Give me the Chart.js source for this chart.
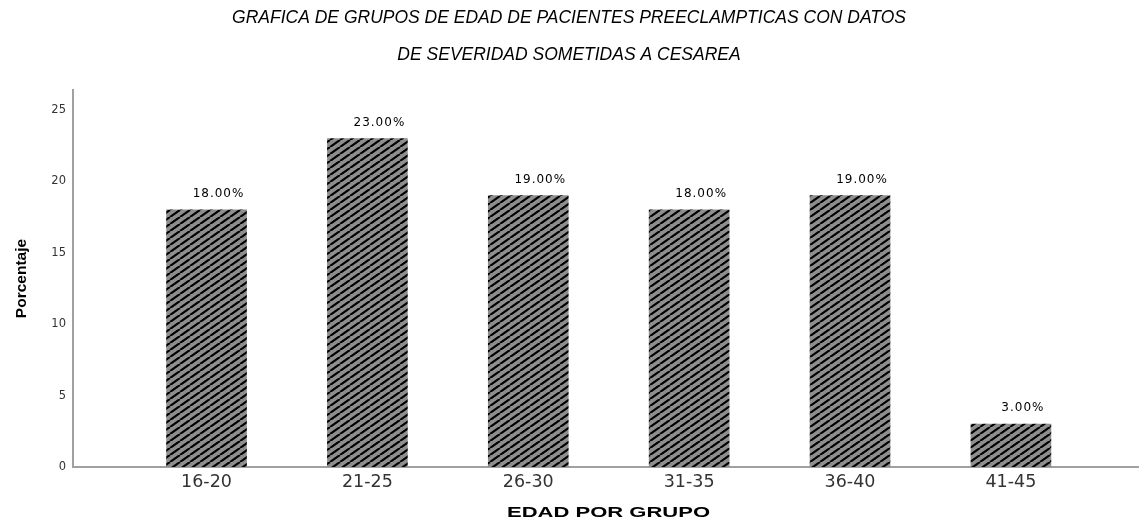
<!DOCTYPE html>
<html>
<head>
<meta charset="utf-8">
<script src="https://cdn.jsdelivr.net/npm/chart.js@4.4.1/dist/chart.umd.min.js"></script>
<style>
html,body{margin:0;padding:0;background:#fff;}
#wrap{width:1139px;height:523px;}
</style>
</head>
<body>
<div id="wrap"><canvas id="c" width="1139" height="523"></canvas></div>
<script>
const categories = ['16-20', '21-25', '26-30', '31-35', '36-40', '41-45'];
const percentages = [18, 23, 19, 18, 19, 3];
const yTicks = [0, 5, 10, 15, 20, 25];
const titleLines = ['GRAFICA DE GRUPOS DE EDAD DE PACIENTES PREECLAMPTICAS CON DATOS', 'DE SEVERIDAD SOMETIDAS A CESAREA'];
const xTitle = 'EDAD POR GRUPO';
const yTitle = 'Porcentaje';

function makePattern() {
  const w = 10, h = 7;
  const t = document.createElement('canvas');
  t.width = w; t.height = h;
  const g = t.getContext('2d');
  g.fillStyle = '#8e8e8e';
  g.fillRect(0, 0, w, h);
  g.strokeStyle = '#000';
  g.lineWidth = 2.2;
  g.beginPath();
  for (let k = -1; k <= 1; k++) {
    g.moveTo(k * w, h);
    g.lineTo(k * w + w, 0);
  }
  g.stroke();
  return document.getElementById('c').getContext('2d').createPattern(t, 'repeat');
}

const dejavu = '"DejaVu Sans", "Liberation Sans", sans-serif';
const sans = '"Liberation Sans", Arial, sans-serif';

const labelPlugin = {
  id: 'barLabels',
  afterDatasetsDraw(chart) {
    const ctx = chart.ctx;
    const meta = chart.getDatasetMeta(0);
    ctx.save();
    ctx.font = '12px ' + dejavu;
    ctx.letterSpacing = '1px';
    ctx.fillStyle = '#000';
    ctx.textAlign = 'center';
    ctx.textBaseline = 'middle';
    meta.data.forEach((el, i) => {
      ctx.fillText(percentages[i].toFixed(2) + '%', el.x + 12, el.y - 16);
    });
    ctx.restore();
  },
  afterDraw(chart) {
    // x-axis title, drawn wide like the reference
    const ctx = chart.ctx;
    const xs = chart.scales.x;
    const cx = (xs.left + xs.right) / 2;
    ctx.save();
    ctx.font = 'bold 15.5px ' + sans;
    ctx.fillStyle = '#000';
    ctx.textAlign = 'center';
    ctx.textBaseline = 'middle';
    ctx.translate(cx + 3, xs.bottom - 10);
    ctx.scale(1.42, 1);
    ctx.fillText(xTitle, 0, 0);
    ctx.restore();
  }
};

new Chart(document.getElementById('c'), {
  type: 'bar',
  data: {
    datasets: [{
      data: percentages.map((v, i) => ({ x: i + 1, y: v })),
      backgroundColor: makePattern(),
      borderWidth: 0,
      barThickness: 80
    }]
  },
  options: {
    responsive: false,
    animation: false,
    layout: { padding: { left: 0, right: 1, top: 0, bottom: 0 } },
    plugins: {
      legend: { display: false },
      tooltip: { enabled: false },
      title: {
        display: true,
        text: titleLines,
        color: '#000',
        font: { family: sans, size: 17.5, style: 'italic', weight: 'normal', lineHeight: 2.1 },
        padding: { top: 0, bottom: 16.5 }
      }
    },
    scales: {
      x: {
        type: 'linear',
        offset: false,
        min: 0.17,
        max: 6.79,
        afterBuildTicks(scale) {
          scale.ticks = categories.map((c, i) => ({ value: i + 1 }));
        },
        afterFit(scale) { scale.height = 56; },
        ticks: {
          autoSkip: false,
          maxRotation: 0,
          color: '#333',
          font: { family: dejavu, size: 17.5 },
          padding: 5,
          callback: (v) => categories[v - 1]
        },
        grid: { display: false, drawTicks: false },
        border: { color: '#a0a0a0', width: 2 }
      },
      y: {
        min: 0,
        max: 26.4,
        afterBuildTicks(scale) {
          scale.ticks = yTicks.map(v => ({ value: v }));
        },
        afterFit(scale) { scale.width = 73; },
        ticks: {
          color: '#333',
          font: { family: dejavu, size: 11.5 },
          padding: 7
        },
        grid: { display: false, drawTicks: false },
        border: { color: '#a0a0a0', width: 2 },
        title: {
          display: true,
          text: yTitle,
          color: '#000',
          font: { family: sans, size: 15.5, weight: 'bold' },
          padding: { top: 12, bottom: 0 }
        }
      }
    }
  },
  plugins: [labelPlugin]
});
</script>
</body>
</html>
